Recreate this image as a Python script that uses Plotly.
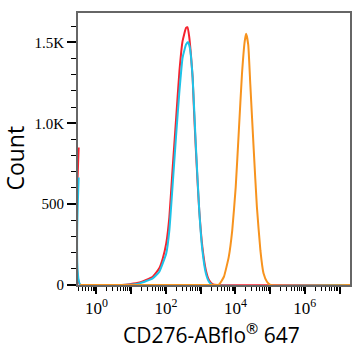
import plotly.graph_objects as go

# log10 fluorescence intensity and counts for each histogram
red_log = [-0.51, -0.47, 0.73, 0.96, 1.24, 1.62, 1.81, 1.91, 2.01, 2.10, 2.19, 2.29, 2.39, 2.48, 2.58, 2.62,
           2.67, 2.72, 2.77, 2.81, 2.86, 2.91, 2.96, 3.05, 3.15, 3.24, 3.34, 3.48, 7.30]
red_count = [850, 0, 0, 5, 15, 51, 103, 164, 257, 420, 708, 1015, 1323, 1508, 1590, 1594,
             1538, 1426, 1282, 1077, 851, 646, 462, 236, 92, 31, 6, 0, 0]

cyan_log = [-0.51, -0.46, 0.73, 1.24, 1.62, 1.81, 2.01, 2.10, 2.19, 2.29, 2.39, 2.48, 2.58, 2.64, 2.69,
            2.77, 2.86, 2.96, 3.05, 3.15, 3.24, 3.34, 7.30]
cyan_count = [665, 0, 0, 10, 41, 82, 195, 338, 605, 913, 1200, 1405, 1487, 1503, 1467,
              1282, 872, 462, 215, 72, 20, 0, 0]

orange_log = [-0.47, 3.39, 3.53, 3.67, 3.81, 3.91, 4.01, 4.10, 4.19, 4.27, 4.31, 4.37, 4.43, 4.53, 4.62,
              4.72, 4.81, 4.91, 5.01, 7.30]
orange_count = [0, 0, 3, 51, 174, 338, 605, 954, 1303, 1508, 1553, 1487, 1241, 831, 482,
                215, 72, 20, 0, 0]

x_major = [0, 1, 2, 3, 4, 5, 6, 7]
x_exp = ["0", "", "2", "", "4", "", "6", ""]
y_ticks = [0, 500, 1000, 1500]
y_labels = ["0", "500", "1.0K", "1.5K"]

x_labels = [("10<sup>" + e + "</sup>") if e else "" for e in x_exp]

fig = go.Figure()
for xs, ys, col in [(red_log, red_count, "#f5222d"),
                    (cyan_log, cyan_count, "#1ec3e8"),
                    (orange_log, orange_count, "#f7931e")]:
    fig.add_trace(go.Scatter(x=[10 ** v for v in xs], y=ys, mode="lines",
                             line=dict(color=col, width=2, shape="spline", smoothing=0.4),
                             showlegend=False, hoverinfo="skip"))

minor_vals = [k * 10 ** d for d in range(-1, 8) for k in range(2, 10)]

fig.update_layout(
    width=363, height=350,
    margin=dict(l=78, r=11, t=12, b=65),
    paper_bgcolor="white", plot_bgcolor="white",
    xaxis=dict(type="log", range=[-0.53, 7.30],
               tickvals=[10 ** v for v in x_major], ticktext=x_labels,
               ticks="outside", ticklen=7, tickwidth=2, tickcolor="black",
               minor=dict(tickvals=minor_vals, ticks="outside", ticklen=4, tickwidth=1, tickcolor="black"),
               showline=True, linecolor="#666666", linewidth=2, mirror=True,
               showgrid=False, zeroline=False,
               tickfont=dict(family="Liberation Serif", size=17, color="black")),
    yaxis=dict(range=[0, 1682], tickvals=y_ticks, ticktext=y_labels,
               ticks="outside", ticklen=9, tickwidth=2, tickcolor="black",
               minor=dict(dtick=100, ticks="outside", ticklen=5, tickwidth=1, tickcolor="black"),
               showline=True, linecolor="#666666", linewidth=2, mirror=True,
               showgrid=False, zeroline=False,
               tickfont=dict(family="Liberation Serif", size=15, color="black")),
    annotations=[
        dict(text="Count", xref="paper", yref="paper", x=-0.235, y=0.465,
             textangle=-90, showarrow=False, xanchor="center", yanchor="middle",
             font=dict(family="Open Sans", size=23, color="black")),
        dict(text="CD276-ABflo<sup>®</sup> 647", xref="paper", yref="paper", x=0.489, y=-0.178,
             showarrow=False, xanchor="center", yanchor="middle",
             font=dict(family="Open Sans", size=21, color="black")),
    ],
)

fig.write_html("out.html")
